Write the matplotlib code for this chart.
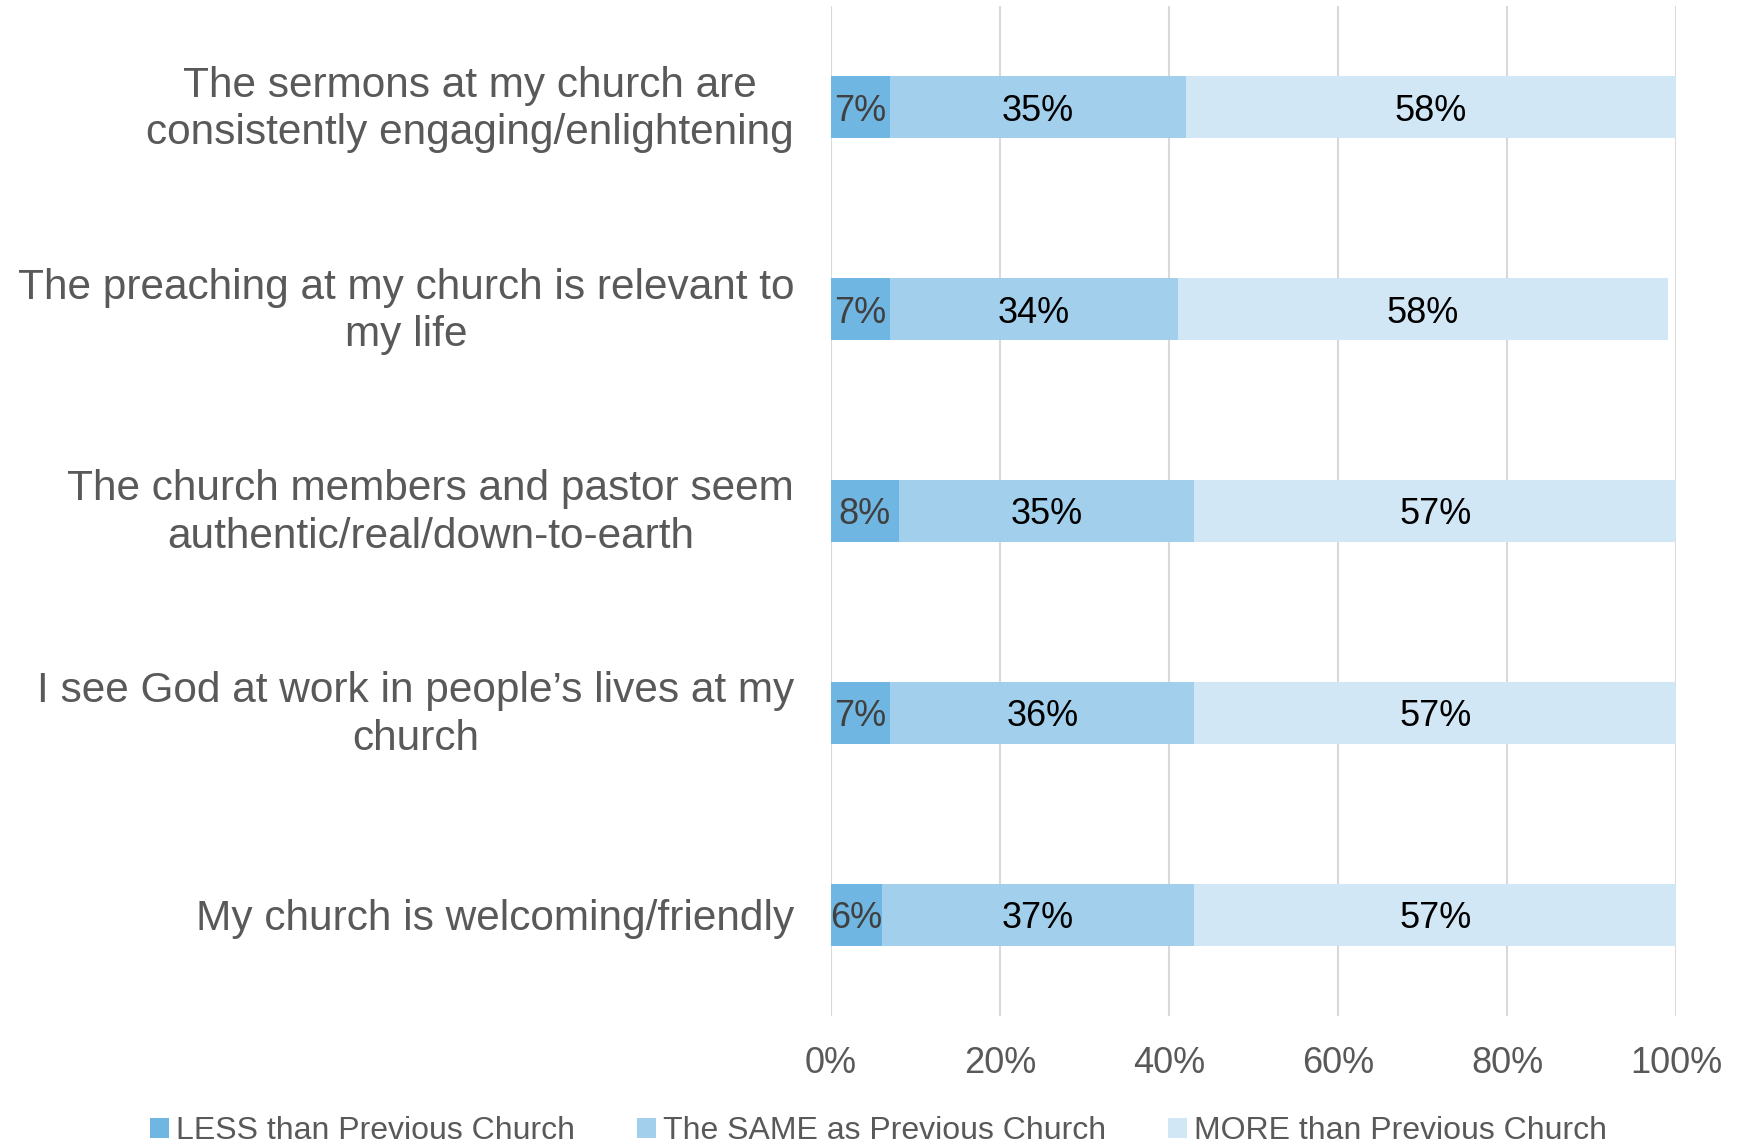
import numpy as np
import matplotlib as mpl
import matplotlib.pyplot as plt
import matplotlib.transforms as mtrans

mpl.rc('font', family=['Liberation Sans', 'DejaVu Sans'])

# data
categories = [
    "The sermons at my church are\nconsistently engaging/enlightening",
    "The preaching at my church is relevant to\nmy life",
    "The church members and pastor seem\nauthentic/real/down-to-earth",
    "I see God at work in people\u2019s lives at my\nchurch",
    "My church is welcoming/friendly",
]
less_vals = [7, 7, 8, 7, 6]
same_vals = [35, 34, 35, 36, 37]
more_vals = [58, 58, 57, 57, 57]
series_names = ["LESS than Previous Church", "The SAME as Previous Church", "MORE than Previous Church"]
colors = ["#6FB6E2", "#A2D0EC", "#D1E7F5"]
label_colors = ["#404040", "black", "black"]
x_ticks = [0, 20, 40, 60, 80, 100]

fig = plt.figure(figsize=(17.43, 11.44), dpi=100)
ax = fig.add_axes([0.4768, 0.112, 0.4848, 0.8827])

y = np.arange(len(categories))
left = np.zeros(len(categories))
for vals, name, col, lc in zip([less_vals, same_vals, more_vals], series_names, colors, label_colors):
    vals = np.array(vals, dtype=float)
    bars = ax.barh(y, vals, left=left, height=0.31, color=col, label=name, zorder=2)
    txts = ax.bar_label(bars, labels=[f"{int(v)}%" for v in vals], label_type='center',
                        fontsize=26, color=lc)
    for t in txts:
        t.set_va('center_baseline')
    left += vals

ax.set_ylim(len(categories) - 0.5, -0.5)
ax.set_xlim(0, 100)
ax.set_yticks(y)
ax.set_yticklabels([])

# category labels drawn by hand so the two-line ones sit centred on the bars
for yi, cat in zip(y, categories):
    dy = 6 / 100 if '\n' in cat else 0
    tr = ax.get_yaxis_transform() + mtrans.ScaledTranslation(-0.37, dy, fig.dpi_scale_trans)
    ax.text(0, yi, cat, transform=tr, ha='right', va='center_baseline', fontsize=30.5,
            color='#595959', multialignment='center', linespacing=1.25)

ax.set_xticks(x_ticks)
ax.set_xticklabels([f"{t}%" for t in x_ticks], fontsize=26, color='#595959')
ax.tick_params(axis='both', length=0)
ax.tick_params(axis='x', pad=22)
ax.grid(axis='x', color='#D9D9D9', linewidth=1.5, zorder=0)
for s in ax.spines.values():
    s.set_visible(False)

fig.legend(loc='center', bbox_to_anchor=(0.504, 0.011), ncol=3, frameon=False,
           fontsize=23, labelcolor='#595959', handlelength=0.6, handleheight=0.6,
           handletextpad=0.2, columnspacing=1.95)

fig.savefig("out.png", dpi=100)
